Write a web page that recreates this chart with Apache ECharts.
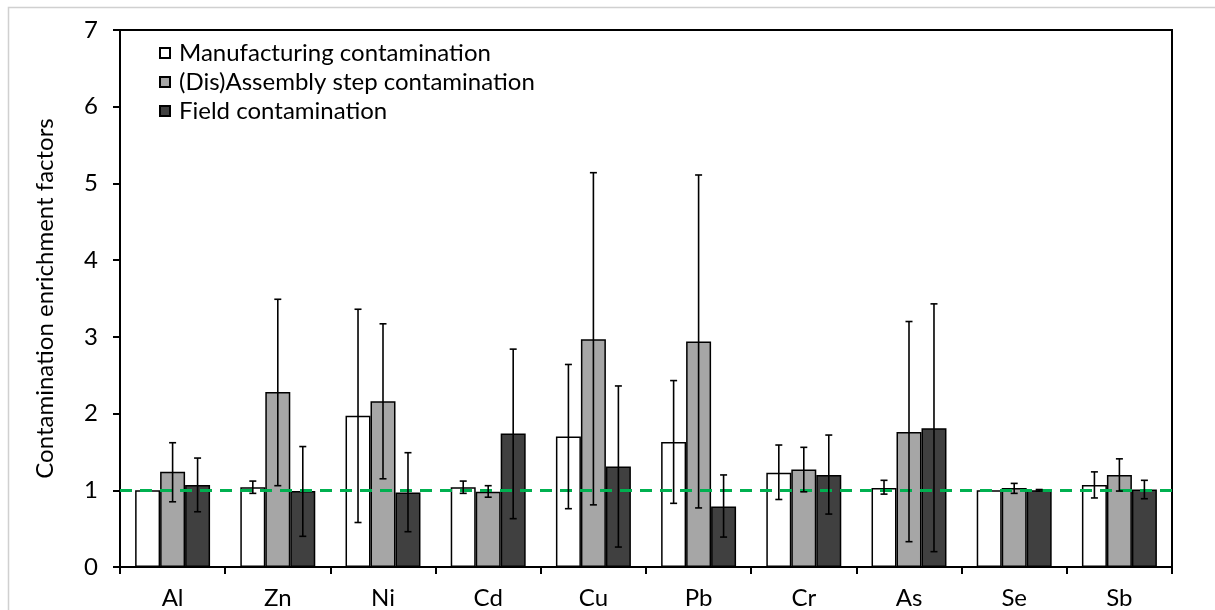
<!DOCTYPE html>
<html><head><meta charset="utf-8">
<script src="https://cdn.jsdelivr.net/npm/echarts@6/dist/echarts.min.js"></script>
<style>html,body{margin:0;padding:0;background:#fff;}#c{width:1215px;height:610px;}</style>
</head><body><div id="c"></div>
<script>
const categories = ['Al','Zn','Ni','Cd','Cu','Pb','Cr','As','Se','Sb'];
const seriesNames = ['Manufacturing contamination','(Dis)Assembly step contamination','Field contamination'];
const manufacturing = [1.00, 1.04, 1.97, 1.04, 1.70, 1.63, 1.23, 1.03, 1.00, 1.07];
const manufLow  = [null, 0.96, 0.58, 0.96, 0.76, 0.83, 0.88, 0.95, null, 0.90];
const manufHigh = [null, 1.12, 3.36, 1.12, 2.64, 2.43, 1.59, 1.13, null, 1.24];
const assembly = [1.24, 2.28, 2.16, 0.98, 2.97, 2.94, 1.27, 1.76, 1.03, 1.20];
const assemblyLow  = [0.85, 1.06, 1.15, 0.91, 0.81, 0.77, 0.98, 0.33, 0.96, 0.99];
const assemblyHigh = [1.62, 3.49, 3.17, 1.06, 5.14, 5.11, 1.56, 3.20, 1.09, 1.41];
const field = [1.07, 0.99, 0.97, 1.74, 1.31, 0.79, 1.20, 1.81, 1.00, 1.01];
const fieldLow  = [0.72, 0.40, 0.46, 0.63, 0.26, 0.39, 0.69, 0.20, 0.99, 0.89];
const fieldHigh = [1.42, 1.57, 1.49, 2.84, 2.36, 1.20, 1.72, 3.43, 1.01, 1.13];
const yTicks = [0,1,2,3,4,5,6,7];
const referenceLevel = 1;

const FONT = 'Lato';
const barFrac = 0.2375;
const values = [manufacturing, assembly, field];
const lows = [manufLow, assemblyLow, fieldLow];
const highs = [manufHigh, assemblyHigh, fieldHigh];
const fills = ['#ffffff', '#a6a6a6', '#404040'];

function errSeries(k) {
  const data = categories.map((c, i) => [i, lows[k][i], highs[k][i]]).filter(d => d[1] != null);
  return {
    type: 'custom', z: 5, silent: true,
    data: data,
    encode: { x: 0, y: [1, 2] },
    renderItem: function (params, api) {
      const i = api.value(0);
      const lo = api.coord([i, api.value(1)]);
      const hi = api.coord([i, api.value(2)]);
      const band = api.size([1, 0])[0];
      const x = lo[0] + (k - 1) * band * barFrac;
      const cap = 3.5;
      const st = { stroke: '#000', lineWidth: 1.6 };
      return { type: 'group', children: [
        { type: 'line', shape: { x1: x, y1: lo[1], x2: x, y2: hi[1] }, style: st },
        { type: 'line', shape: { x1: x - cap, y1: lo[1], x2: x + cap, y2: lo[1] }, style: st },
        { type: 'line', shape: { x1: x - cap, y1: hi[1], x2: x + cap, y2: hi[1] }, style: st }
      ]};
    }
  };
}

const barSeries = values.map((v, k) => ({
  name: seriesNames[k], type: 'bar', data: v,
  barWidth: (barFrac * 100) + '%', barGap: '0%',
  itemStyle: { color: fills[k], borderColor: '#000', borderWidth: 1.5 },
  z: 2
}));
barSeries[0].markLine = {
  silent: true, symbol: 'none', z: 4,
  label: { show: false },
  lineStyle: { color: '#00b050', width: 3, type: [12, 8] },
  data: [{ yAxis: referenceLevel }]
};

const chart = echarts.init(document.getElementById('c'), null, { renderer: 'canvas' });
chart.setOption({
  animation: false,
  backgroundColor: '#fff',
  graphic: [{ type: 'rect', shape: { x: 8.5, y: 7.5, width: 1300, height: 700 }, style: { fill: 'none', stroke: '#d0d0d0', lineWidth: 1.5 }, silent: true }],
  grid: { left: 120, right: 43, top: 30, bottom: 43, show: true, borderColor: '#000', borderWidth: 2, backgroundColor: 'transparent' },
  legend: {
    orient: 'vertical', left: 154, top: 36, itemWidth: 10, itemHeight: 10, itemGap: 5,
    icon: 'rect',
    data: seriesNames,
    textStyle: { fontFamily: FONT, fontSize: 24, color: '#000', padding: [0, 0, 0, 4] }
  },
  xAxis: {
    type: 'category', data: categories,
    axisLine: { lineStyle: { color: '#000', width: 2 } },
    axisTick: { show: true, length: 7, lineStyle: { color: '#000', width: 2 } },
    axisLabel: { fontFamily: FONT, fontSize: 24, color: '#000', margin: 19 },
    splitLine: { show: false }
  },
  yAxis: {
    type: 'value', min: yTicks[0], max: yTicks[yTicks.length - 1], interval: 1,
    name: 'Contamination enrichment factors', nameLocation: 'middle', nameGap: 63,
    nameTextStyle: { fontFamily: FONT, fontSize: 24, color: '#000' },
    axisLine: { show: true, lineStyle: { color: '#000', width: 2 } },
    axisTick: { show: true, length: 7, lineStyle: { color: '#000', width: 2 } },
    axisLabel: { fontFamily: FONT, fontSize: 24, color: '#000', margin: 22 },
    splitLine: { show: false }
  },
  series: barSeries.concat([errSeries(0), errSeries(1), errSeries(2)])
});
</script></body></html>
